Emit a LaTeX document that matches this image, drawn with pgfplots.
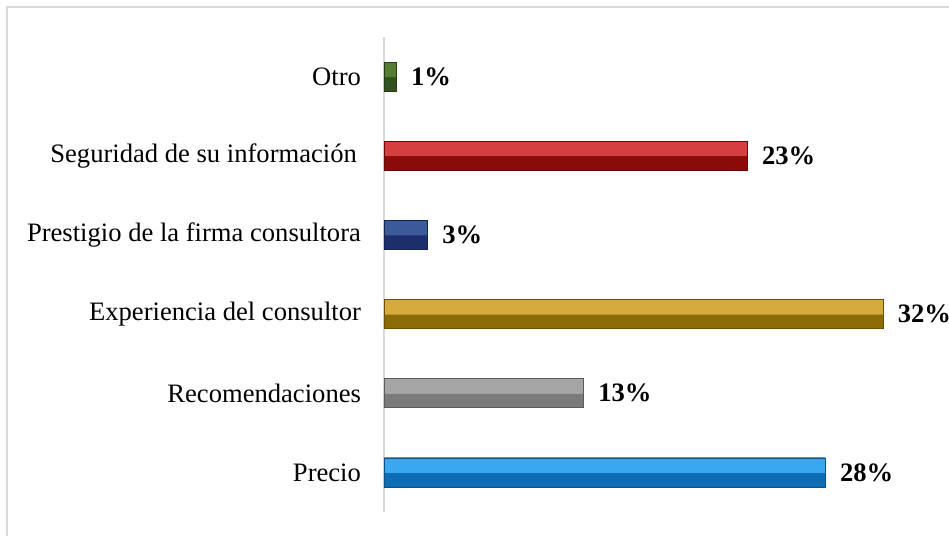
\documentclass[border=0pt]{standalone}
\usepackage{fontspec}
\setmainfont{Liberation Serif}
\usepackage{pgfplots}
\pgfplotsset{compat=1.18}
\makeatletter
\pgfdeclareverticalshading[tikz@axis@top,tikz@axis@bottom]{bevel}{100bp}{color(0bp)=(tikz@axis@bottom); color(49.5bp)=(tikz@axis@bottom); color(50.5bp)=(tikz@axis@top); color(100bp)=(tikz@axis@top)}
\makeatother
\definecolor{gtop}{HTML}{567D36}\definecolor{gbot}{HTML}{33511F}
\definecolor{rtop}{HTML}{D4403F}\definecolor{rbot}{HTML}{8B0A0A}
\definecolor{ntop}{HTML}{3C5A9A}\definecolor{nbot}{HTML}{1C2F6B}
\definecolor{ytop}{HTML}{D4AB3C}\definecolor{ybot}{HTML}{8C6A08}
\definecolor{stop}{HTML}{A6A6A6}\definecolor{sbot}{HTML}{7A7A7A}
\definecolor{btop}{HTML}{3AA8F0}\definecolor{bbot}{HTML}{0F6DB5}
\definecolor{frame}{HTML}{D9D9D9}
\tikzset{bevbar/.style 2 args={top color=#1, bottom color=#2, shading=bevel, draw=#2!75!black, line width=0.4pt}}
\begin{document}
\begin{tikzpicture}[x=1pt,y=1pt,font=\fontsize{13.3pt}{15.5pt}\selectfont]
\draw[frame, line width=0.8pt] (3.5,-20) rectangle (520,264.5);
\begin{axis}[
  at={(192pt,12pt)}, anchor=south west,
  scale only axis, width=273pt, height=237.5pt,
  xmin=0, xmax=35, ymin=-0.5, ymax=5.5,
  axis x line=none, axis y line=left,
  y axis line style={-, draw=frame, line width=0.8pt},
  major tick length=0pt,
  ytick={0,1,2,3,4,5},
  yticklabels={Precio, Recomendaciones, Experiencia del consultor, Prestigio de la firma consultora, {Seguridad de su información\kern2pt}, Otro},
  yticklabel style={font=\fontsize{13.3pt}{15.5pt}\selectfont, xshift=-8pt},
  xbar, bar width=14.5pt, bar shift=0pt,
  point meta=explicit symbolic,
  nodes near coords={\textbf{\pgfplotspointmeta\%}},
  nodes near coords style={anchor=west, xshift=3.8pt, font=\fontsize{13.3pt}{15.5pt}\selectfont, text=black},
  clip=false,
]
\addplot[bevbar={btop}{bbot}] coordinates {(28.3,0) [28]};
\addplot[bevbar={stop}{sbot}] coordinates {(12.8,1) [13]};
\addplot[bevbar={ytop}{ybot}] coordinates {(32.0,2) [32]};
\addplot[bevbar={ntop}{nbot}] coordinates {(2.8,3) [3]};
\addplot[bevbar={rtop}{rbot}] coordinates {(23.3,4) [23]};
\addplot[bevbar={gtop}{gbot}] coordinates {(0.8,5) [1]};
\end{axis}
\pgfresetboundingbox
\path[use as bounding box] (0,0) rectangle (474.5,268);
\end{tikzpicture}
\end{document}
